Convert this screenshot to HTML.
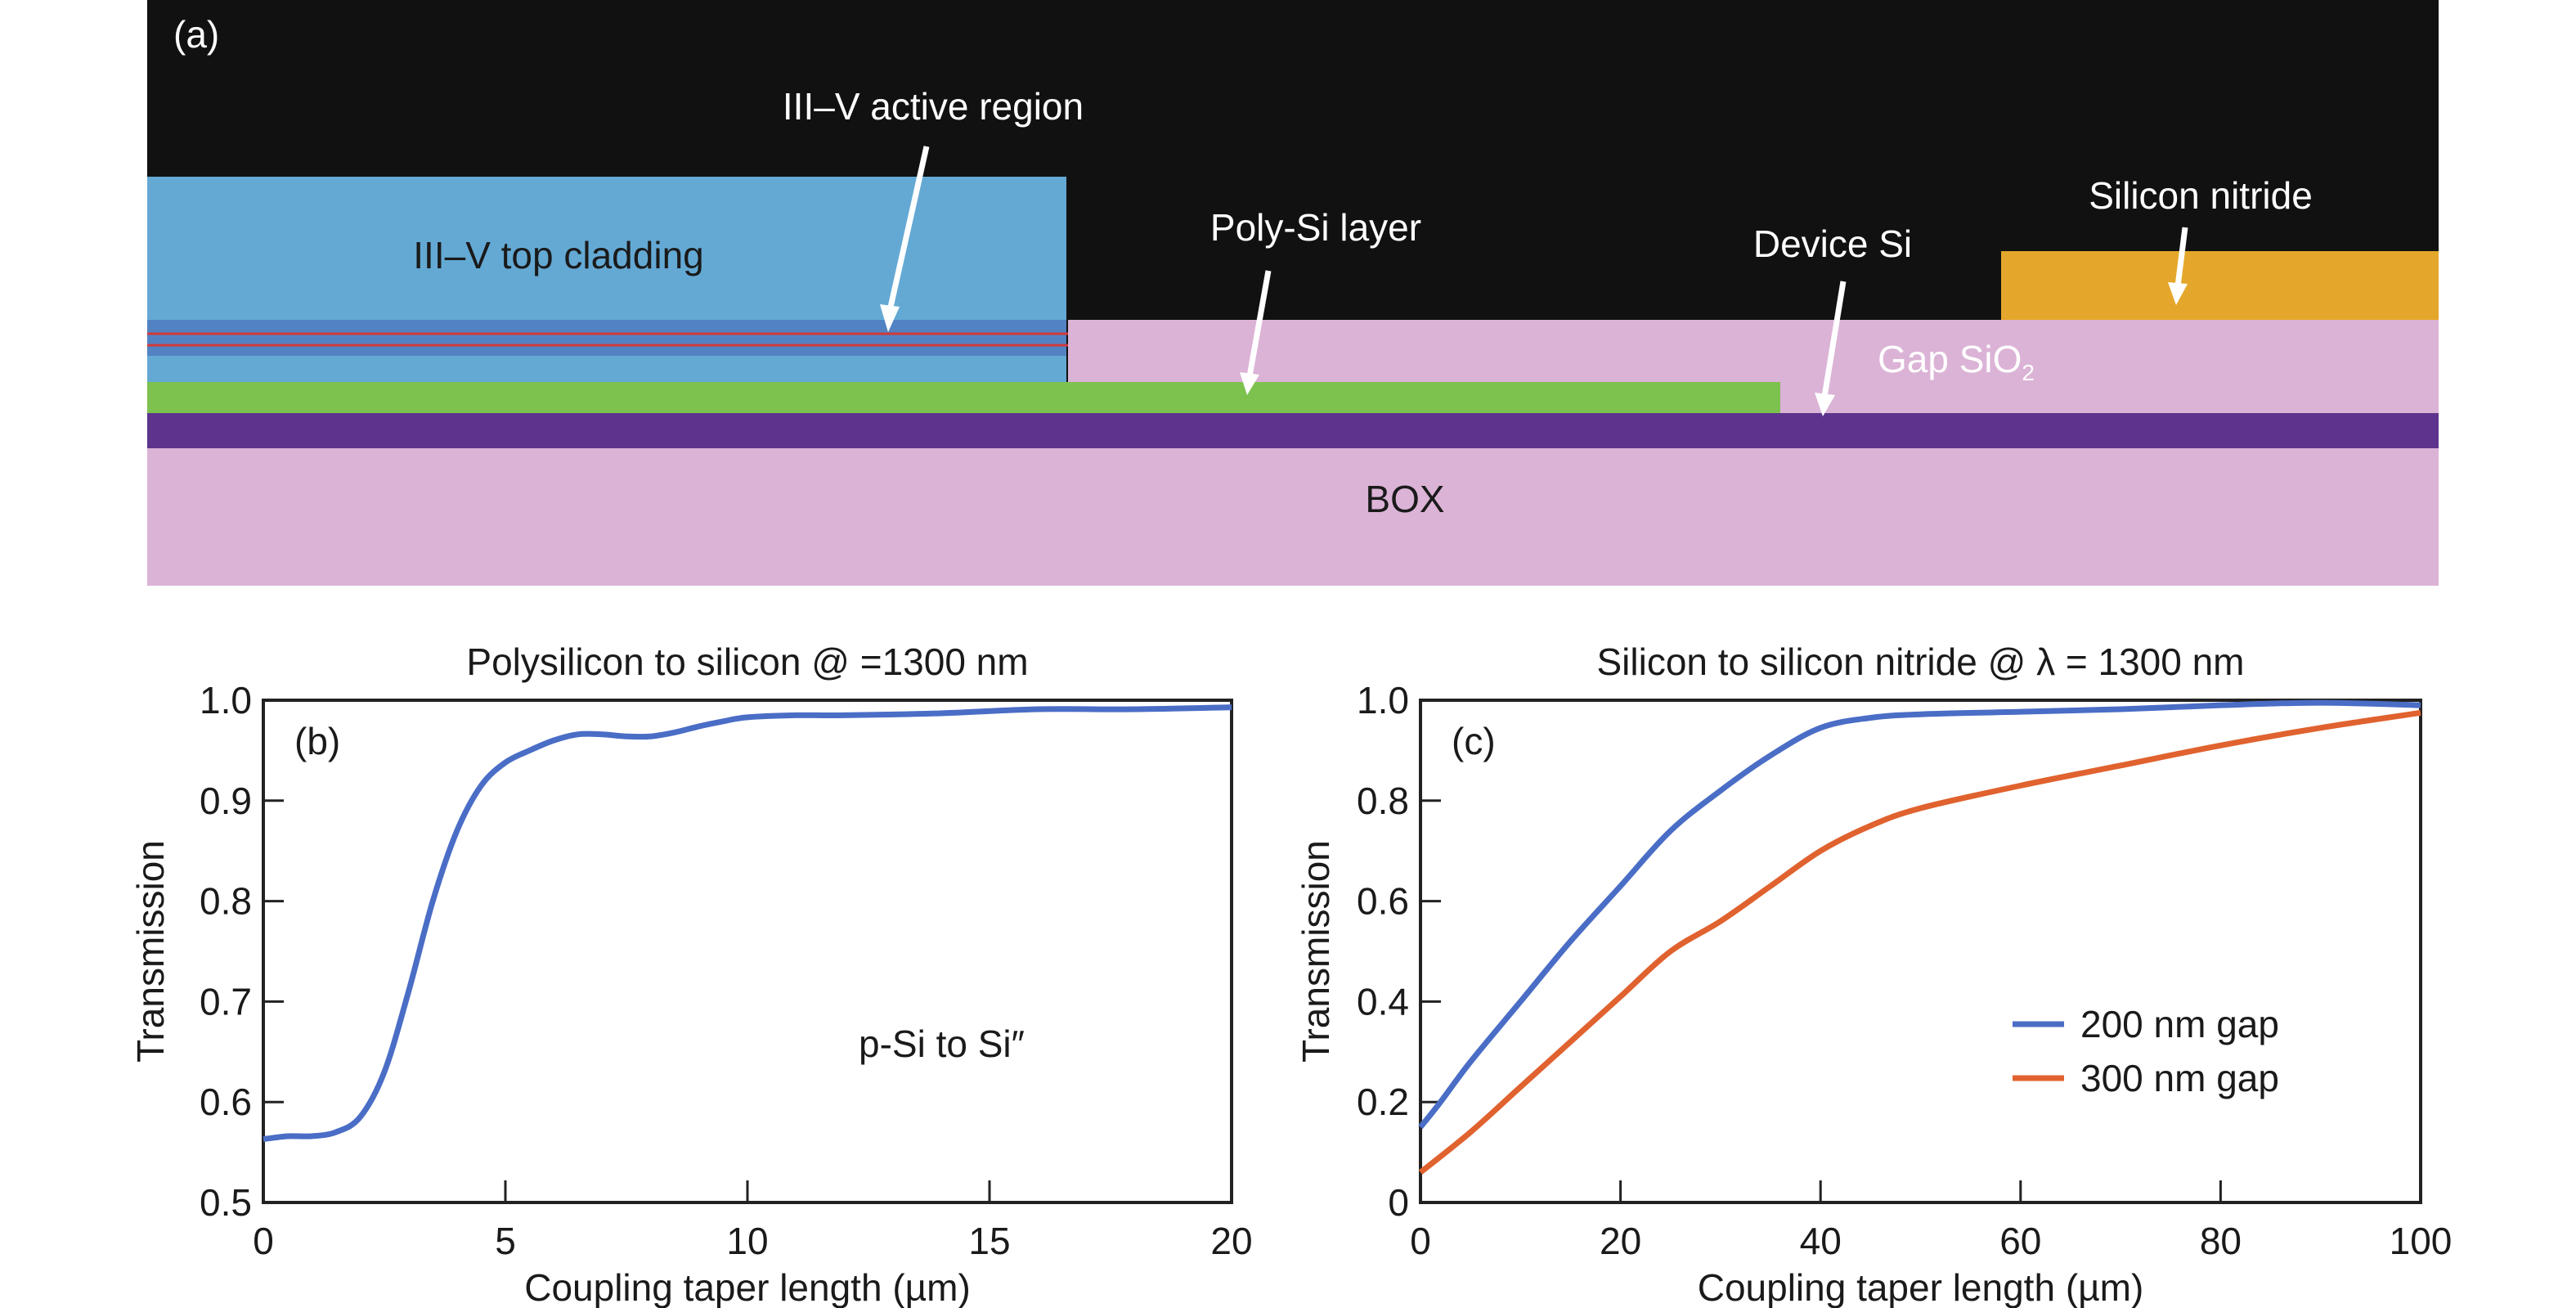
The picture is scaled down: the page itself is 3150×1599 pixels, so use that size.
<!DOCTYPE html>
<html><head><meta charset="utf-8"><style>
html,body{margin:0;padding:0;background:#fff}
svg{display:block}
text{font-family:"Liberation Sans",sans-serif}
</style></head><body>
<svg id="fig" width="3150" height="1599" viewBox="0 0 3150 1599">
<g>
<rect x="180" y="0" width="2802" height="716" fill="#111111"/>
<rect x="180" y="548" width="2802" height="168" fill="#dbb3d6"/>
<rect x="180" y="505" width="2802" height="43" fill="#5e338e"/>
<rect x="1306" y="391" width="1676" height="114" fill="#dbb3d6"/>
<rect x="180" y="467" width="1997" height="38" fill="#7dc24f"/>
<rect x="180" y="216" width="1124" height="251" fill="#64a9d4"/>
<rect x="180" y="391" width="1124" height="44" fill="#5282c2"/>
<line x1="180" y1="408" x2="1306" y2="408" stroke="#d23a3a" stroke-width="3"/>
<line x1="180" y1="422" x2="1306" y2="422" stroke="#d23a3a" stroke-width="3"/>
<rect x="2447" y="307" width="535" height="84" fill="#e4a72b"/>
<text x="212" y="58" font-size="46" fill="#fff">(a)</text>
<text x="1141" y="146" font-size="46" fill="#fff" text-anchor="middle">III–V active region</text>
<text x="683" y="328" font-size="46" fill="#1a1a1a" text-anchor="middle">III–V  top cladding</text>
<text x="1609" y="294" font-size="46" fill="#fff" text-anchor="middle">Poly-Si layer</text>
<text x="2241" y="314" font-size="46" fill="#fff" text-anchor="middle">Device Si</text>
<text x="2691" y="255" font-size="46" fill="#fff" text-anchor="middle">Silicon nitride</text>
<text x="2296" y="455" font-size="46" fill="#fff">Gap SiO<tspan font-size="28" dy="10">2</tspan></text>
<text x="1718" y="626" font-size="46" fill="#1a1a1a" text-anchor="middle">BOX</text>
<g stroke="#fff" stroke-width="7" fill="#fff">
<line x1="1133" y1="179" x2="1088" y2="380"/><polygon points="1076,372 1086,406 1100,375" stroke="none"/>
<line x1="1551" y1="331" x2="1528" y2="460"/><polygon points="1516,455 1525,483 1540,458" stroke="none"/>
<line x1="2254" y1="344" x2="2231" y2="485"/><polygon points="2219,480 2229,509 2244,483" stroke="none"/>
<line x1="2672" y1="278" x2="2663" y2="350"/><polygon points="2651,345 2661,373 2675,347" stroke="none"/>
</g>
</g>
<g id="charts"></g>
</svg>
<script>
// Panel b data
const bX = [0,0.5,1,1.5,2,2.5,3,3.5,4,4.5,5,5.5,6,6.5,7,7.5,8,8.5,9,9.5,10,11,12,14,16,18,20];
const bY = [0.563,0.566,0.566,0.57,0.585,0.63,0.71,0.8,0.87,0.915,0.938,0.95,0.96,0.966,0.966,0.964,0.964,0.968,0.974,0.979,0.983,0.985,0.985,0.987,0.991,0.991,0.993];
const bXTicks = [0,5,10,15,20];
const bYTicks = [0.5,0.6,0.7,0.8,0.9,1.0];
const bYTickLabels = ["0.5","0.6","0.7","0.8","0.9","1.0"];
// Panel c data
const cX = [0,2,5,10,15,20,25,30,35,40,45,50,60,70,80,90,100];
const c200 = [0.15,0.2,0.28,0.4,0.52,0.63,0.74,0.82,0.89,0.945,0.965,0.972,0.977,0.982,0.99,0.995,0.99];
const c300X = [0,5,10,15,20,25,30,35,40,45,50,60,70,80,90,100];
const c300 = [0.06,0.14,0.23,0.32,0.41,0.5,0.56,0.63,0.7,0.75,0.785,0.83,0.87,0.91,0.945,0.975];
const cXTicks = [0,20,40,60,80,100];
const cYTicks = [0,0.2,0.4,0.6,0.8,1.0];
const cYTickLabels = ["0","0.2","0.4","0.6","0.8","1.0"];

const NS = "http://www.w3.org/2000/svg";
const root = document.getElementById('charts');
function mk(tag, attrs, parent){const e=document.createElementNS(NS,tag);for(const k in attrs)e.setAttribute(k,attrs[k]);(parent||root).appendChild(e);return e;}
function smooth(pts){let d="M"+pts[0][0]+","+pts[0][1];for(let i=0;i<pts.length-1;i++){const p0=pts[Math.max(0,i-1)],p1=pts[i],p2=pts[i+1],p3=pts[Math.min(pts.length-1,i+2)];const c1x=p1[0]+(p2[0]-p0[0])/6,c1y=p1[1]+(p2[1]-p0[1])/6,c2x=p2[0]-(p3[0]-p1[0])/6,c2y=p2[1]-(p3[1]-p1[1])/6;d+=" C"+c1x+","+c1y+" "+c2x+","+c2y+" "+p2[0]+","+p2[1];}return d;}

function chart(cfg){
  const g = mk('g',{});
  
  
  const L=cfg.L,R=cfg.R,T=856,B=1470;
  const sx=v=>L+(v-cfg.x0)/(cfg.x1-cfg.x0)*(R-L);
  const sy=v=>B-(v-cfg.y0)/(cfg.y1-cfg.y0)*(B-T);
  const frame=mk('path',{d:`M${L},${T} H${R} V${B} H${L} Z`,fill:'none',stroke:'#222','stroke-width':4},g);
  
  
  cfg.xt.forEach(v=>{
    const t=mk('line',{x1:sx(v),x2:sx(v),y1:B,y2:B-27,stroke:'#222','stroke-width':3},g);
    
    
    const l=mk('text',{x:sx(v),y:1533,'font-size':46,'text-anchor':'middle',fill:'#1a1a1a'},g);
    l.textContent=v;
    
    
  });
  cfg.yt.forEach((v,i)=>{
    const t=mk('line',{x1:L,x2:L+25,y1:sy(v),y2:sy(v),stroke:'#222','stroke-width':3},g);
    
    
    const l=mk('text',{x:L-14,y:sy(v)+16,'font-size':46,'text-anchor':'end',fill:'#1a1a1a'},g);
    l.textContent=cfg.yl[i];
    
    
  });
  const title=mk('text',{x:(L+R)/2,y:825,'font-size':46,'text-anchor':'middle',fill:'#1a1a1a'},g);
  title.textContent=cfg.title;
  
  
  const xl=mk('text',{x:(L+R)/2,y:1590,'font-size':46,'text-anchor':'middle',fill:'#1a1a1a'},g);
  xl.textContent='Coupling taper length (µm)';
  
  
  const yx=cfg.ylx, yy=1163;
  const yl=mk('text',{x:yx,y:yy,'font-size':46,'text-anchor':'middle',fill:'#1a1a1a',transform:`rotate(-90 ${yx} ${yy})`},g);
  yl.textContent='Transmission';
  
  
  const pl=mk('text',{x:L+38,y:922,'font-size':46,fill:'#1a1a1a'},g);
  pl.textContent=cfg.panel;
  
  
  cfg.series.forEach(s=>{
    const pts=s.x.map((x,i)=>[sx(x),sy(s.y[i])]);
    const p=mk('path',{d:smooth(pts),fill:'none',stroke:s.color,'stroke-width':7,'stroke-linejoin':'round'},g);
    
    
  });
  return {g,sx,sy};
}
const b = chart({name:'chart-b',L:322,R:1506,x0:0,x1:20,y0:0.5,y1:1.0,xt:bXTicks,yt:bYTicks,yl:bYTickLabels,
  title:'Polysilicon to silicon @ =1300 nm',ylx:200,panel:'(b)',
  series:[{name:'p-si-to-si-line',x:bX,y:bY,color:'#4a6dc6'}]});
const note=mk('text',{x:1050,y:1292,'font-size':46,fill:'#1a1a1a'},b.g);
note.textContent='p-Si to Si″';



const c = chart({name:'chart-c',L:1737,R:2960,x0:0,x1:100,y0:0,y1:1.0,xt:cXTicks,yt:cYTicks,yl:cYTickLabels,
  title:'Silicon to silicon nitride @ λ = 1300 nm',ylx:1625,panel:'(c)',
  series:[{name:'line-200nm-gap',x:cX,y:c200,color:'#4a6dc6'},{name:'line-300nm-gap',x:c300X,y:c300,color:'#e0622f'}]});
[['200 nm gap','#4a6dc6',1252,'legend-entry-200nm'],['300 nm gap','#e0622f',1318,'legend-entry-300nm']].forEach(e=>{
  const lg=mk('g',{},c.g);
  
  
  mk('line',{x1:2461,x2:2524,y1:e[2],y2:e[2],stroke:e[1],'stroke-width':7},lg);
  const t=mk('text',{x:2544,y:e[2]+16,'font-size':46,fill:'#1a1a1a'},lg);
  t.textContent=e[0];
});
</script>
</body></html>
